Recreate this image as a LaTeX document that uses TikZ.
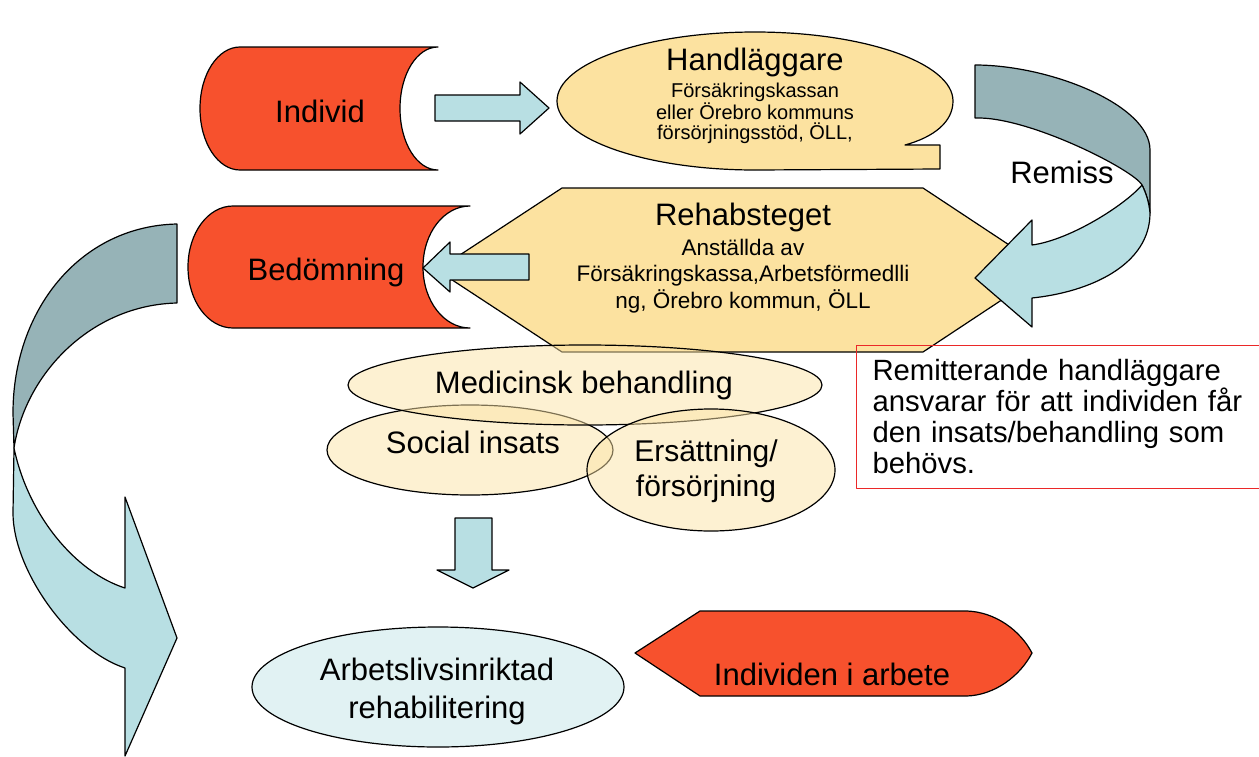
\documentclass[tikz,border=0pt]{standalone}
\usepackage{fontspec}
\setmainfont{Liberation Sans}
\usetikzlibrary{shapes.geometric}

\definecolor{shapered}{RGB}{247,81,45}
\definecolor{shapecream}{RGB}{252,226,160}
\definecolor{arrowblue}{RGB}{184,223,227}
\definecolor{arrowgray}{RGB}{150,179,183}
\definecolor{ellcream}{RGB}{251,227,166}
\definecolor{ellblue}{RGB}{225,242,243}
\definecolor{boxred}{RGB}{235,40,40}

\begin{document}
\begin{tikzpicture}[x=1pt, y=-1pt, line join=round,
    outline/.style={draw=black, line width=1.2pt},
    redshape/.style={outline, fill=shapered},
    creamshape/.style={outline, fill=shapecream},
    blockarrow/.style={outline, fill=arrowblue},
    backarrow/.style={outline, fill=arrowgray},
    bubble/.style={ellipse, outline, fill=ellcream, fill opacity=0.5, inner sep=0pt},
    titletext/.style={font=\fontsize{31}{37}\selectfont, inner sep=0pt, anchor=base},
    multitext/.style={inner sep=0pt, align=center}]
    \useasboundingbox (0,0) rectangle (1259,756);

    % Left curved arrow (back face, front face)
    \draw[backarrow] (177,224) .. controls (80,226) and (13,310) .. (13,413) -- (14,448)
        .. controls (25,375) and (90,305) .. (177,303) -- cycle;
    \draw[blockarrow] (14,448) .. controls (28,515) and (75,572) .. (125,588) -- (125,497) -- (177,638)
        -- (125,756) -- (125,668) .. controls (70,650) and (13,570) .. (13,513) -- cycle;

    % Individ shape
    \draw[redshape] (240,47) -- (438,47) .. controls (417,47) and (400,74) .. (400,108.5)
        .. controls (400,143) and (417,170) .. (438,170) -- (240,170)
        .. controls (218,170) and (200,143) .. (200,108.5) .. controls (200,74) and (218,47) .. (240,47) -- cycle;
    \node[titletext] (individ) at (320,122) {Individ};

    % Arrow: Individ to Handläggare
    \draw[blockarrow] (435,95) -- (520,95) -- (520,82) -- (549,108) -- (520,134) -- (520,121) -- (435,121) -- cycle;

    % Handläggare callout
    \draw[creamshape] (905,145) -- (940,145) -- (940,169) -- (755,170)
        .. controls (646,170) and (557,139) .. (557,101) .. controls (557,63) and (646,32) .. (755,32)
        .. controls (864,32) and (953,63) .. (953,101) .. controls (953,122) and (934,137) .. (905,145) -- cycle;
    \node[titletext] (hand) at (755,70) {Handläggare};
    \node[multitext, font=\fontsize{20}{20.5}\selectfont] (handsub) at (755,113.5)
        {Försäkringskassan\\eller Örebro kommuns\\försörjningsstöd, ÖLL,};

    % Rehabsteget hexagon
    \draw[creamshape] (562,188) -- (923,188) -- (1047,270) -- (923,352) -- (562,352) -- (437,270) -- cycle;
    \node[titletext] (rehab) at (743,225) {Rehabsteget};
    \node[multitext, font=\fontsize{22.5}{26.5}\selectfont] (rehabsub) at (743,276)
        {Anställda av\\Försäkringskassa,Arbetsförmedlli\\ng, Örebro kommun, ÖLL};

    % Remiss arrow (back face, front face)
    \draw[backarrow] (975,65) .. controls (1050,65) and (1150,105) .. (1150,150) -- (1150,213)
        .. controls (1149,202) and (1146,193) .. (1142,185) .. controls (1134,170) and (1028,116) .. (975,118) -- cycle;
    \draw[blockarrow] (1142,185) .. controls (1125,205) and (1070,240) .. (1032,245) -- (1032,220) -- (975,278)
        -- (1032,327) -- (1032,298) .. controls (1090,292) and (1150,265) .. (1150,213)
        .. controls (1149,202) and (1146,193) .. (1142,185) -- cycle;
    \node[titletext] (remiss) at (1062,183) {Remiss};

    % Bedömning shape
    \draw[redshape] (233,206) -- (470,206) .. controls (444,206) and (423,233) .. (423,267)
        .. controls (423,301) and (444,328) .. (470,328) -- (233,328)
        .. controls (208,328) and (188,301) .. (188,267) .. controls (188,233) and (208,206) .. (233,206) -- cycle;
    \node[titletext] (bedom) at (326,280) {Bedömning};

    % Arrow: Rehabsteget to Bedömning
    \draw[blockarrow] (529,254) -- (450,254) -- (450,242) -- (423,268) -- (450,292) -- (450,280) -- (529,280) -- cycle;

    % Insats ellipses
    \node[bubble, minimum width=286pt, minimum height=90pt] (social) at (470,450) {};
    \node[bubble, minimum width=474pt, minimum height=80pt] (medic) at (585,385) {};
    \node[bubble, minimum width=248pt, minimum height=122pt] (ersatt) at (711,470) {};
    \node[titletext] (medictext) at (584,393) {Medicinsk behandling};
    \node[titletext] (socialtext) at (473,453) {Social insats};
    \node[multitext, font=\fontsize{30}{35}\selectfont] (ersatttext) at (706,471) {Ersättning/\\försörjning};

    % Arrow: insatser to rehabilitering
    \draw[blockarrow] (455,518) -- (492,518) -- (492,570) -- (509,570) -- (473,588) -- (437,570) -- (455,570) -- cycle;

    % Arbetslivsinriktad rehabilitering
    \node[ellipse, outline, fill=ellblue, inner sep=0pt, minimum width=372pt, minimum height=120pt] (arbrehab) at (438,687) {};
    \node[multitext, font=\fontsize{31}{38}\selectfont] (arbtext) at (437,691) {Arbetslivsinriktad\\rehabilitering};

    % Individen i arbete
    \draw[redshape] (635,653) -- (700,611) -- (967,611) .. controls (995,612) and (1020,630) .. (1032,653)
        .. controls (1020,676) and (995,695) .. (967,696) -- (700,696) -- cycle;
    \node[titletext] (iarbete) at (832,685) {Individen i arbete};

    % Note box
    \node[draw=boxred, line width=1pt, anchor=north west, minimum height=143pt, text width=380pt,
        align=left, inner xsep=16pt, inner ysep=0pt, font=\fontsize{29.3}{31}\selectfont] (note) at (856,345)
        {Remitterande handläggare\\ansvarar för att individen får\\den insats/behandling som\\behövs.};
\end{tikzpicture}
\end{document}
